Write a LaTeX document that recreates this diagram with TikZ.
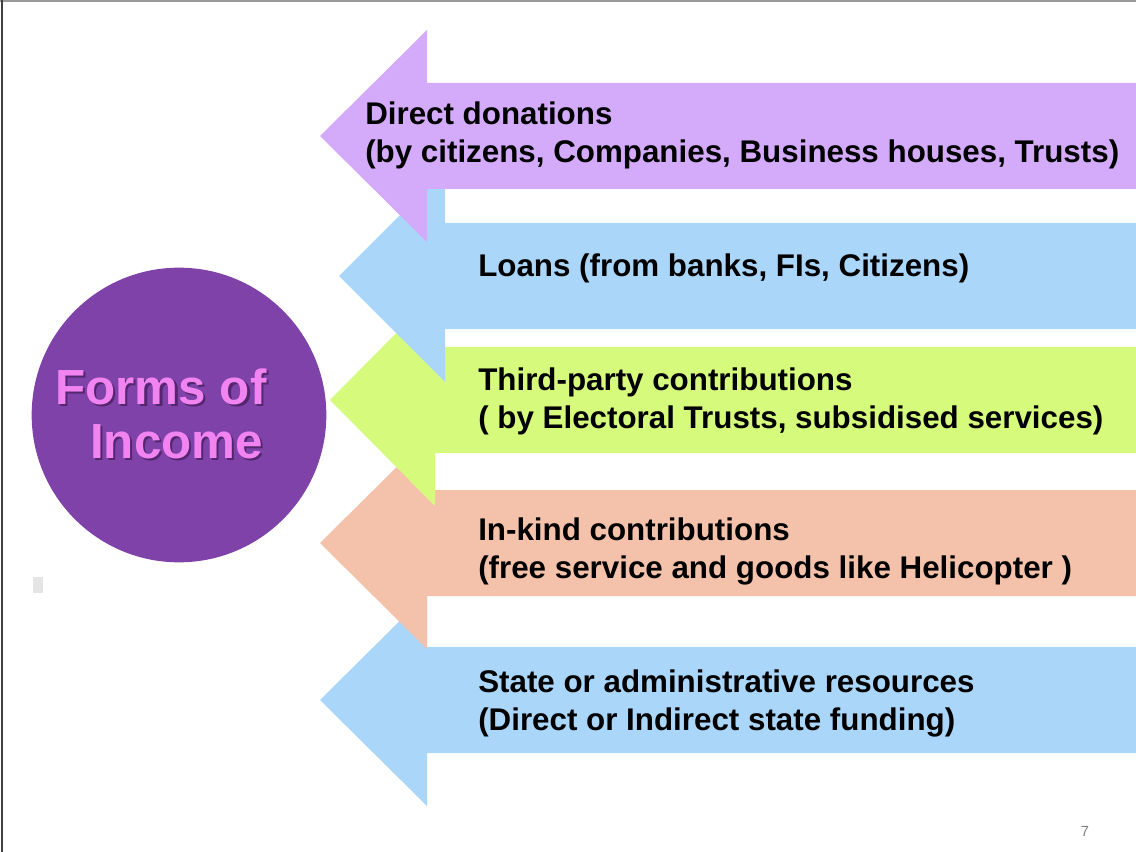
\documentclass[tikz,border=0pt]{standalone}
\usepackage{fontspec}
\setmainfont{Liberation Sans}
\usetikzlibrary{positioning}
\definecolor{lavender}{RGB}{212,170,250}
\definecolor{skyblue}{RGB}{170,214,250}
\definecolor{limegreen}{RGB}{214,250,124}
\definecolor{salmon}{RGB}{244,194,170}
\definecolor{circlepurple}{RGB}{127,66,168}
\definecolor{titlepink}{RGB}{242,132,242}
\definecolor{titleshade}{RGB}{84,38,112}
% text with a small drop shadow
\newcommand\shadowed[1]{\makebox[0pt][l]{\hspace{1.6pt}\raisebox{-1.6pt}{\textcolor{titleshade}{#1}}}#1}
\tikzset{
  x=0.75pt, y=-0.75pt, % one unit is one pixel of the slide
  arrowtext/.style={anchor=west, align=left, inner sep=0pt, font=\fontsize{23.5}{28.5}\selectfont\bfseries},
  title/.style={align=left, inner sep=0pt, text=titlepink, font=\fontsize{37}{40.5}\selectfont\bfseries},
}

\begin{document}
\begin{tikzpicture}
   \useasboundingbox (0,0) rectangle (1136,852);
   \draw[gray!80, line width=1.2pt] (0,1) -- (1136,1);
   \draw[black!75, line width=1.5pt] (2,0) -- (2,852);
   % arrows, lowest first
   \fill[skyblue] (1136,647) -- (427,647) -- (427,594) -- (320,700) -- (427,806) -- (427,753) -- (1136,753) -- cycle;
   \fill[salmon] (1136,490) -- (427,490) -- (427,437) -- (320,543) -- (427,649) -- (427,596) -- (1136,596) -- cycle;
   \fill[limegreen] (1136,347) -- (435,347) -- (435,294) -- (330,400) -- (435,506) -- (435,453) -- (1136,453) -- cycle;
   \fill[skyblue] (1136,223) -- (445,223) -- (445,170) -- (339,276) -- (445,382) -- (445,329) -- (1136,329) -- cycle;
   \fill[lavender] (1136,83) -- (427,83) -- (427,30) -- (320,136) -- (427,242) -- (427,189) -- (1136,189) -- cycle;
   % labels
   \node[arrowtext] (donations) at (365,135) {Direct donations\\(by citizens, Companies, Business houses, Trusts)};
   \node[arrowtext] (loans) at (478,268) {Loans (from banks, FIs, Citizens)};
   \node[arrowtext] (thirdparty) at (478,401) {Third-party contributions\\( by Electoral Trusts, subsidised services)};
   \node[arrowtext] (inkind) at (478,551) {In-kind contributions\\(free service and goods like Helicopter )};
   \node[arrowtext] (state) at (478,703) {State or administrative resources\\(Direct or Indirect state funding)};
   % the circle
   \node[circle, fill=circlepurple, minimum size=221pt, inner sep=0pt] (income) at (179,415) {};
   \node[title] (title) at (161,415) {\shadowed{Forms of}\\\hspace*{26pt}\shadowed{Income}};
   \fill[gray!20] (33,577) rectangle (43,593);
   \node[text=gray, font=\fontsize{11}{13}\selectfont] (pagenum) at (1085,831) {7};
\end{tikzpicture}
\end{document}
